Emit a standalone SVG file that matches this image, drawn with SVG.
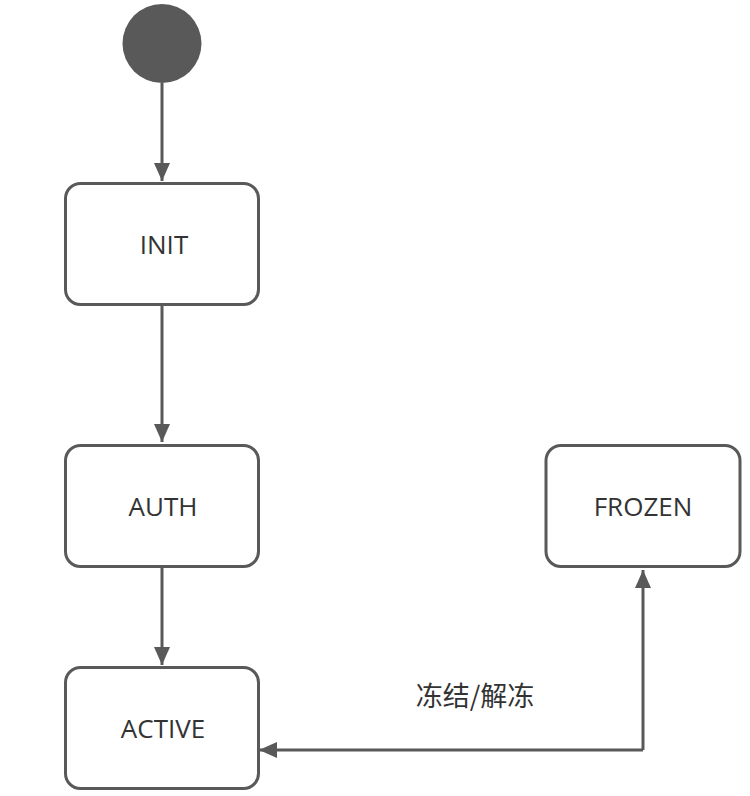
<svg xmlns="http://www.w3.org/2000/svg" width="750" height="796" viewBox="0 0 750 796">
  <style>
    .node rect { fill: #ffffff; stroke: #595959; stroke-width: 3; }
    .label { font-family: "Open Sans", "Noto Sans", "Liberation Sans", sans-serif; font-size: 26px; fill: #333333; text-anchor: middle; }
    .edge { fill: none; stroke: #595959; stroke-width: 3; marker-end: url(#arrow); }
    .elabel { font-family: "Noto Sans CJK SC", "Noto Sans", sans-serif; font-size: 27px; fill: #333333; text-anchor: middle; }
  </style>
  <defs>
    <marker id="arrow" markerUnits="userSpaceOnUse" markerWidth="20" markerHeight="18" refX="18" refY="8" orient="auto">
      <path d="M0,0 L18,8 L0,16 Z" fill="#595959"/>
    </marker>
  </defs>
  <rect width="750" height="796" fill="#ffffff"/>
  <g id="start">
    <circle cx="162" cy="43.5" r="39.5" fill="#595959"/>
  </g>
  <g id="init" class="node">
    <rect x="65.5" y="183.5" width="193" height="121" rx="15"/>
    <text class="label" x="164" y="254">INIT</text>
  </g>
  <g id="auth" class="node">
    <rect x="65.5" y="445.5" width="193" height="121" rx="15"/>
    <text class="label" x="163" y="516">AUTH</text>
  </g>
  <g id="active" class="node">
    <rect x="65.5" y="667.5" width="193" height="121" rx="15"/>
    <text class="label" x="163" y="738">ACTIVE</text>
  </g>
  <g id="frozen" class="node">
    <rect x="546" y="445.5" width="194" height="121" rx="15"/>
    <text class="label" x="643" y="516">FROZEN</text>
  </g>
  <g id="connectors">
    <path class="edge" d="M162,83 L162,181"/>
    <path class="edge" d="M162,306 L162,442"/>
    <path class="edge" d="M162,568 L162,665"/>
    <path class="edge" d="M643,750 L643,570"/>
    <path class="edge" d="M643,750 L259,750"/>
    <text class="elabel" x="475" y="706">冻结/解冻</text>
  </g>
</svg>
